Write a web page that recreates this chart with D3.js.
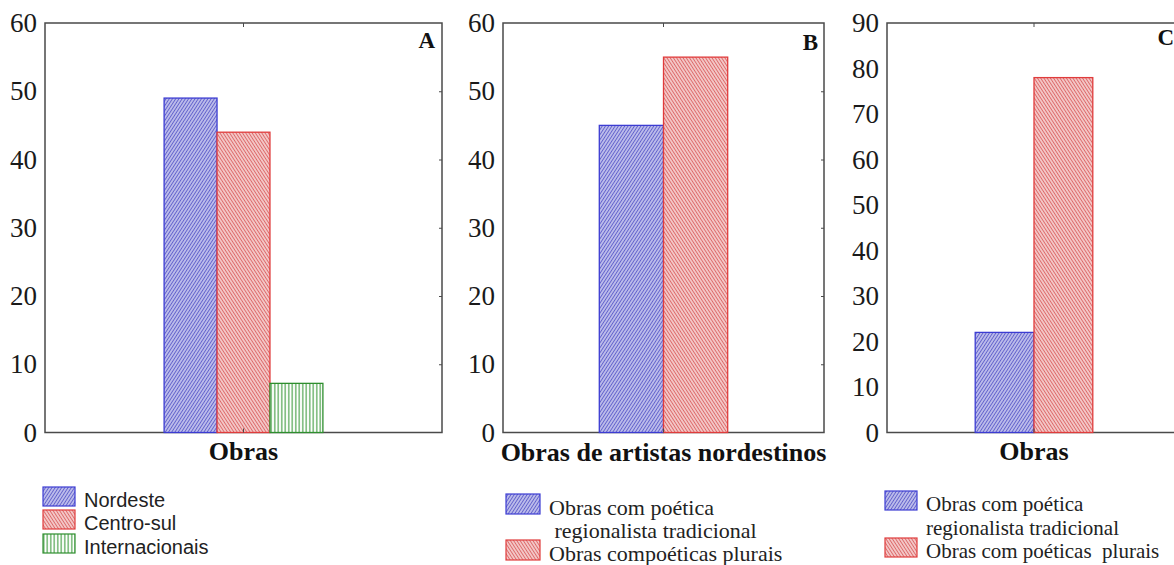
<!DOCTYPE html>
<html><head><meta charset="utf-8">
<script src="https://cdn.jsdelivr.net/npm/d3@7"></script>
<style>
html,body{margin:0;padding:0;background:#fff;}
svg{display:block;}
text{white-space:pre;}
</style>
</head><body>
<svg id="chart" width="1174" height="565"></svg>
<script>
// ---------- data ----------
const categoriesA = ["Obras"];
const seriesA = ["Nordeste", "Centro-sul", "Internacionais"];
const valuesA = [49, 44, 7.2];
const ticksA = [0, 10, 20, 30, 40, 50, 60];
const legendA = [["Nordeste"], ["Centro-sul"], ["Internacionais"]];

const categoriesB = ["Obras de artistas nordestinos"];
const seriesB = ["Obras com poética regionalista tradicional", "Obras compoéticas plurais"];
const valuesB = [45, 55];
const ticksB = [0, 10, 20, 30, 40, 50, 60];
const legendB = [["Obras com poética", " regionalista tradicional"], ["Obras compoéticas plurais"]];

const categoriesC = ["Obras"];
const seriesC = ["Obras com poética regionalista tradicional", "Obras com poéticas  plurais"];
const valuesC = [22, 78];
const ticksC = [0, 10, 20, 30, 40, 50, 60, 70, 80, 90];
const legendC = [["Obras com poética", "regionalista tradicional"], ["Obras com poéticas  plurais"]];

const panelLetters = ["A", "B", "C"];

// ---------- styles ----------
const svg = d3.select("#chart");
const defs = svg.append("defs");

function hatch(id, bg, stroke, angle, spacing, sw) {
  const p = defs.append("pattern").attr("id", id)
    .attr("patternUnits", "userSpaceOnUse")
    .attr("width", spacing).attr("height", 10)
    .attr("patternTransform", `rotate(${angle})`);
  p.append("rect").attr("width", spacing).attr("height", 10).attr("fill", bg);
  p.append("line").attr("x1", spacing / 2).attr("x2", spacing / 2)
    .attr("y1", 0).attr("y2", 10).attr("stroke", stroke).attr("stroke-width", sw);
}
hatch("hBlue", "#c6c6ee", "#6262cc", 33, 2.7, 1.1);
hatch("hRed", "#f6d2d2", "#dc6a6a", -33, 2.7, 1.1);
hatch("hGreen", "#ffffff", "#3c9a3c", 0, 3.5, 1.1);

const styleBlue = {fill: "url(#hBlue)", stroke: "#3c3cd2"};
const styleRed = {fill: "url(#hRed)", stroke: "#e03c3c"};
const styleGreen = {fill: "url(#hGreen)", stroke: "#2e8e2e"};

const yTop = 23, yBottom = 432.5;

const panels = [
  {cats: categoriesA, series: seriesA, values: valuesA, ticks: ticksA, legend: legendA,
   styles: [styleBlue, styleRed, styleGreen], x0: 45, x1: 442, letterX: 435, letterY: 48,
   labelY: 460, legendFont: "'Liberation Sans', Arial, sans-serif", legendSize: 20,
   legendX: 43, swW: 32, swH: 19, rowBase: [507, 530, 554], lineH: 23},
  {cats: categoriesB, series: seriesB, values: valuesB, ticks: ticksB, legend: legendB,
   styles: [styleBlue, styleRed], x0: 503, x1: 824, letterX: 818, letterY: 50,
   labelY: 461, legendFont: "'Liberation Serif', 'Times New Roman', serif", legendSize: 22,
   legendX: 506, swW: 34, swH: 20, rowBase: [515, 561], lineH: 23},
  {cats: categoriesC, series: seriesC, values: valuesC, ticks: ticksC, legend: legendC,
   styles: [styleBlue, styleRed], x0: 887, x1: 1181, letterX: 1174, letterY: 45,
   labelY: 460, legendFont: "'Liberation Serif', 'Times New Roman', serif", legendSize: 21,
   legendX: 885, swW: 32, swH: 19, rowBase: [511, 558], lineH: 23.5}
];

panels.forEach((P, i) => {
  const g = svg.append("g");
  const yMax = P.ticks[P.ticks.length - 1];
  const y = d3.scaleLinear().domain([0, yMax]).range([yBottom, yTop]);
  const x = d3.scaleBand().domain(P.cats).range([P.x0, P.x1]).paddingInner(0).paddingOuter(0.75);
  const xs = d3.scaleBand().domain(P.series).range([0, x.bandwidth()]).padding(0);

  // frame
  g.append("rect").attr("x", P.x0).attr("y", yTop)
    .attr("width", P.x1 - P.x0).attr("height", yBottom - yTop)
    .attr("fill", "none").attr("stroke", "#4a4a4a").attr("stroke-width", 1.5);

  // bars
  g.selectAll("rect.bar").data(P.series).enter().append("rect").attr("class", "bar")
    .attr("x", d => x(P.cats[0]) + xs(d))
    .attr("y", (d, j) => y(P.values[j]))
    .attr("width", xs.bandwidth())
    .attr("height", (d, j) => y(0) - y(P.values[j]))
    .attr("fill", (d, j) => P.styles[j].fill)
    .attr("stroke", (d, j) => P.styles[j].stroke)
    .attr("stroke-width", 1.3);

  // left tick labels
  const ax = g.append("g").attr("transform", `translate(${P.x0},0)`)
    .call(d3.axisLeft(y).tickValues(P.ticks).tickSize(0).tickPadding(8).tickFormat(d3.format("d")));
  ax.select(".domain").remove();
  ax.selectAll("text").attr("font-family", "'Liberation Serif', 'Times New Roman', serif")
    .attr("font-size", 27).attr("fill", "#1a1a1a");

  // inner ticks on right edge
  const ar = g.append("g").attr("transform", `translate(${P.x1},0)`)
    .call(d3.axisLeft(y).tickValues(P.ticks.slice(1, -1)).tickSize(3).tickFormat(""));
  ar.select(".domain").remove();
  ar.selectAll("line").attr("stroke", "#4a4a4a");

  // center ticks on top and bottom
  const cx = x(P.cats[0]) + x.bandwidth() / 2;
  const at = g.append("g").attr("transform", `translate(0,${yTop})`)
    .call(d3.axisBottom(x).tickSize(4).tickFormat(""));
  at.select(".domain").remove();
  at.selectAll("line").attr("stroke", "#4a4a4a");
  const ab = g.append("g").attr("transform", `translate(0,${yBottom})`)
    .call(d3.axisTop(x).tickSize(4).tickFormat(""));
  ab.select(".domain").remove();
  ab.selectAll("line").attr("stroke", "#4a4a4a");

  // category label
  g.append("text").attr("x", cx).attr("y", P.labelY).attr("text-anchor", "middle")
    .attr("font-family", "'Liberation Serif', 'Times New Roman', serif")
    .attr("font-weight", "bold").attr("font-size", 26).attr("fill", "#111")
    .text(P.cats[0]);

  // panel letter
  g.append("text").attr("x", P.letterX).attr("y", P.letterY).attr("text-anchor", "end")
    .attr("font-family", "'Liberation Serif', 'Times New Roman', serif")
    .attr("font-weight", "bold").attr("font-size", 23).attr("fill", "#111")
    .text(panelLetters[i]);

  // legend
  P.legend.forEach((lines, j) => {
    const base = P.rowBase[j];
    g.append("rect").attr("x", P.legendX).attr("y", base - P.swH - 1)
      .attr("width", P.swW).attr("height", P.swH)
      .attr("fill", P.styles[j].fill).attr("stroke", P.styles[j].stroke).attr("stroke-width", 1.2);
    lines.forEach((ln, k) => {
      g.append("text").attr("x", P.legendX + P.swW + 9).attr("y", base + k * P.lineH)
        .attr("font-family", P.legendFont).attr("font-size", P.legendSize).attr("fill", "#222")
        .text(ln);
    });
  });
});
</script>
</body></html>
